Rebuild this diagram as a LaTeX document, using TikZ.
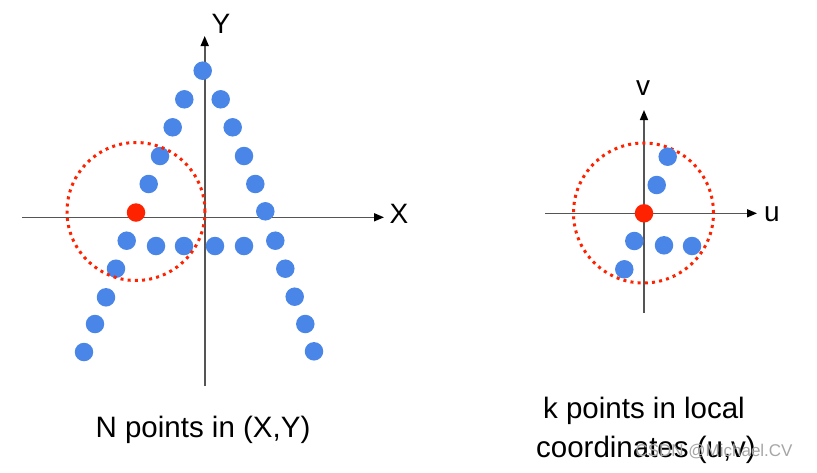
\documentclass[tikz,border=0pt]{standalone}
\usepackage{fontspec}
\setmainfont{Liberation Sans}
\usetikzlibrary{arrows.meta}
\definecolor{ptblue}{HTML}{4A86E8}
\definecolor{ptred}{HTML}{FF2200}
\definecolor{axisgray}{HTML}{555555}
\tikzset{
  bdot/.style={circle, fill=ptblue, inner sep=0pt, minimum size=18.5pt},
  rdot/.style={circle, fill=ptred, inner sep=0pt, minimum size=18.5pt},
  axisline/.style={draw=axisgray, line width=1.6pt, -{Triangle[length=10pt,width=8pt,color=black]}},
  plainaxis/.style={draw=axisgray, line width=1.6pt},
  nbhd/.style={circle, draw=ptred, line width=3pt, dash pattern=on 3pt off 4.2pt, inner sep=0pt},
  axlabel/.style={font=\fontsize{28}{30}\selectfont, anchor=base},
  caption/.style={font=\fontsize{29.5}{36}\selectfont, anchor=base},
  wmark/.style={font=\fontsize{17}{20}\selectfont, text=black!35, anchor=base west}
}
\begin{document}
\begin{tikzpicture}[x=1pt,y=-1pt]
\useasboundingbox (0,0) rectangle (817,472);
% ---------- left plot ----------
\coordinate (yb) at (204.7,386);
\coordinate (yt) at (204.7,36);
\coordinate (xl) at (22,217.3);
\coordinate (xr) at (384,217.3);
\draw[plainaxis] (yb) -- (204.7,40);
\draw[axisline] (204.7,60) -- (yt);
\draw[axisline] (xl) -- (xr);
\node[axlabel] (ylab) at (221,33) {Y};
\node[axlabel] (xlab) at (399,223) {X};
% blue points of the letter A
\node[bdot] (a1) at (202.7,70.7) {};
\node[bdot] (a2) at (184.3,99.3) {};
\node[bdot] (a3) at (220.7,99.3) {};
\node[bdot] (a4) at (172.7,127.3) {};
\node[bdot] (a5) at (232.7,127.3) {};
\node[bdot] (a6) at (160,156) {};
\node[bdot] (a7) at (244,156) {};
\node[bdot] (a8) at (148.7,184) {};
\node[bdot] (a9) at (255.3,184) {};
\node[bdot] (a10) at (265.3,211.3) {};
\node[bdot] (a11) at (126.7,240.7) {};
\node[bdot] (a12) at (156,246) {};
\node[bdot] (a13) at (184,246) {};
\node[bdot] (a14) at (215,246) {};
\node[bdot] (a15) at (244,246) {};
\node[bdot] (a16) at (275.3,240.7) {};
\node[bdot] (a17) at (116,268.7) {};
\node[bdot] (a18) at (285.3,268.7) {};
\node[bdot] (a19) at (106,297.3) {};
\node[bdot] (a20) at (294.7,296.7) {};
\node[bdot] (a21) at (95,324) {};
\node[bdot] (a22) at (305.3,324) {};
\node[bdot] (a23) at (84,352) {};
\node[bdot] (a24) at (314,351.3) {};
% neighbourhood
\node[nbhd, minimum size=138pt] (lcirc) at (136,211.5) {};
\node[rdot] (lred) at (136,212.5) {};
\node[caption] (lcap) at (203,437.5) {N points in (X,Y)};
% ---------- right plot ----------
\coordinate (vb) at (644,313);
\coordinate (vt) at (644,110);
\coordinate (ul) at (545,213.3);
\coordinate (ur) at (757,213.3);
\draw[axisline] (vb) -- (vt);
\draw[axisline] (ul) -- (ur);
\node[axlabel] (vlab) at (643,95) {v};
\node[axlabel] (ulab) at (772,221) {u};
\node[nbhd, minimum size=140pt] (rcirc) at (643.5,213) {};
\node[bdot] (b1) at (667.7,156.7) {};
\node[bdot] (b2) at (656.7,185) {};
\node[bdot] (b3) at (634.3,241) {};
\node[bdot] (b4) at (664,245.3) {};
\node[bdot] (b5) at (692,246) {};
\node[bdot] (b6) at (624.3,269.3) {};
\node[rdot] (rred) at (644,213.3) {};
\node[caption] (rcap1) at (644,418) {k points in local};
\node[caption] (rcap2) at (646,457) {coordinates (u,v)};
\node[wmark] (wm) at (632,456) {CSDN @Michael.CV};
\end{tikzpicture}
\end{document}
